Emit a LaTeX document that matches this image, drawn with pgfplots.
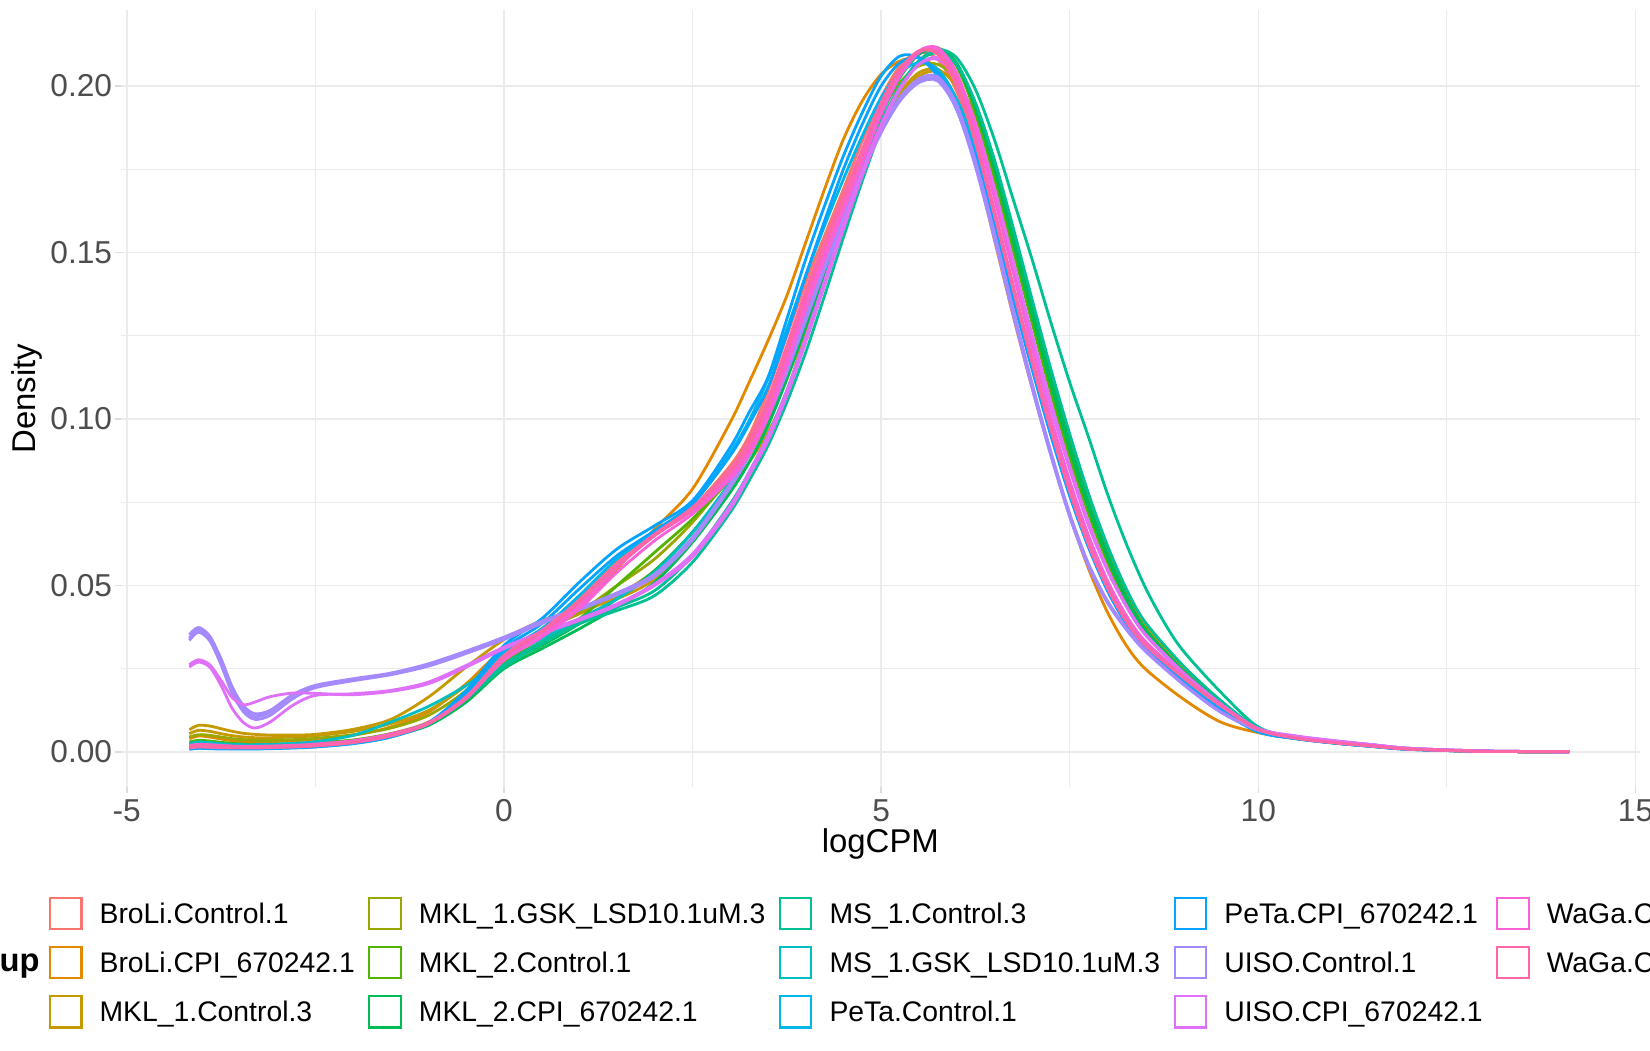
\documentclass[border=0pt]{standalone}
\usepackage{fontspec}
\setmainfont{Liberation Sans}
\usepackage{pgfplots}
\pgfplotsset{compat=1.18}
\definecolor{cBS}{HTML}{F8766D}
\definecolor{cBC}{HTML}{E38900}
\definecolor{cMC}{HTML}{C49A00}
\definecolor{cMG}{HTML}{99A800}
\definecolor{cTC}{HTML}{53B400}
\definecolor{cTP}{HTML}{00BC56}
\definecolor{cSC}{HTML}{00C094}
\definecolor{cSG}{HTML}{00BFC4}
\definecolor{cPC}{HTML}{00B6EB}
\definecolor{cPP}{HTML}{06A4FF}
\definecolor{cUC}{HTML}{A58AFF}
\definecolor{cUP}{HTML}{DF70F8}
\definecolor{cW1}{HTML}{FB61D7}
\definecolor{cW2}{HTML}{FF66A8}
\definecolor{gridc}{HTML}{EBEBEB}
\definecolor{tickmc}{HTML}{DDDDDD}
\definecolor{tickc}{HTML}{4D4D4D}
\begin{document}
\begin{tikzpicture}
\path[use as bounding box] (-57.94pt,-126.1pt) rectangle (734.06pt,377.9pt);
\begin{axis}[
  name=ax,
  at={(0pt,0pt)}, anchor=south west,
  x=36.21pt, y=1598.4pt,
  xmin=-5.08, xmax=15.06, ymin=-0.0106, ymax=0.2229,
  axis line style={draw=none},
  xtick={-5,0,5,10,15}, xticklabels={-5,0,5,10,15},
  ytick={0,0.05,0.1,0.15,0.2}, yticklabels={0.00,0.05,0.10,0.15,0.20},
  minor xtick={-2.5,2.5,7.5,12.5},
  minor ytick={0.025,0.075,0.125,0.175},
  grid=both,
  major grid style={draw=gridc, line width=0.75pt},
  minor grid style={draw=gridc, line width=0.45pt},
  tick align=outside, tick pos=left,
  major tick length=2.64pt, minor tick length=0pt,
  major tick style={draw=tickmc, line width=0.75pt},
  ticklabel style={font=\fontsize{15.2}{18}\selectfont, text=tickc, inner sep=0pt},
  xticklabel style={anchor=base, yshift=-13.6pt},
  yticklabel style={anchor=east, xshift=-1.3pt},
  every axis x label/.style={at={([yshift=-31.5pt]axis description cs:0.5,0)}, anchor=base, inner sep=0pt, font=\fontsize{15.8}{18}\selectfont},
  every axis y label/.style={at={([xshift=-41.1pt]axis description cs:0,0.5)}, rotate=90, anchor=base, inner sep=0pt, font=\fontsize{15.8}{18}\selectfont},
  xlabel={logCPM}, ylabel={Density},
  every axis plot/.append style={line width=1.35pt, smooth, tension=0.5, no markers},
  legend columns=3, transpose legend,
  legend style={at={([xshift=-34.4pt, yshift=-52.5pt]axis description cs:0,0)}, anchor=north west, draw=none, fill=none, inner sep=0pt, outer sep=0pt, row sep=7.2pt, column sep=4.5pt, font=\fontsize{13.6}{16}\selectfont, cells={anchor=base west, inner sep=0pt}},
  legend image code/.code={\path (17.1pt,0pt); \draw[#1, line width=1.0pt] (0.5pt,-2.7pt) rectangle (15.6pt,12.4pt);},
]
% BroLi.Control.1
\addplot[cBS] coordinates {(-4.17,0.0020) (-4.05,0.0024) (-3.9,0.0023) (-3.75,0.0020) (-3.6,0.0018) (-3.45,0.0017) (-3.3,0.0017) (-3.1,0.0018) (-2.8,0.0020) (-2.5,0.0024) (-2,0.0035) (-1.5,0.0055) (-1,0.0090) (-0.5,0.0165) (0,0.0290) (0.5,0.0370) (1,0.0460) (1.5,0.0570) (2,0.0665) (2.5,0.0735) (3,0.0860) (3.25,0.0950) (3.5,0.1085) (3.75,0.1250) (4,0.1410) (4.25,0.1550) (4.5,0.1690) (4.75,0.1835) (5,0.1965) (5.25,0.2060) (5.5,0.2100) (5.75,0.2080) (6,0.1985) (6.25,0.1815) (6.5,0.1600) (6.75,0.1375) (7,0.1160) (7.25,0.0960) (7.5,0.0778) (7.75,0.0620) (8,0.0490) (8.25,0.0390) (8.5,0.0320) (9,0.0222) (9.5,0.0138) (10,0.0067) (10.5,0.0042) (11,0.0028) (11.5,0.0018) (12,0.0009) (13,0.0002) (14.12,0.0001)};
\addlegendentry{BroLi.Control.1}
% BroLi.CPI_670242.1
\addplot[cBC] coordinates {(-4.17,0.0040) (-4.05,0.0048) (-3.9,0.0045) (-3.75,0.0039) (-3.6,0.0034) (-3.45,0.0031) (-3.3,0.0030) (-3.1,0.0031) (-2.8,0.0034) (-2.5,0.0038) (-2,0.0050) (-1.5,0.0075) (-1,0.0120) (-0.5,0.0205) (0,0.0310) (0.5,0.0360) (1,0.0430) (1.5,0.0550) (2,0.0670) (2.5,0.0790) (3,0.0990) (3.25,0.1110) (3.5,0.1235) (3.75,0.1370) (4,0.1530) (4.25,0.1690) (4.5,0.1840) (4.75,0.1955) (5,0.2035) (5.25,0.2075) (5.5,0.2085) (5.75,0.2050) (6,0.1960) (6.25,0.1770) (6.5,0.1540) (6.75,0.1310) (7,0.1095) (7.25,0.0895) (7.5,0.0710) (7.75,0.0550) (8,0.0420) (8.25,0.0320) (8.5,0.0250) (9,0.0160) (9.5,0.0090) (10,0.0058) (10.5,0.0040) (11,0.0027) (11.5,0.0017) (12,0.0008) (13,0.0002) (14.12,0.0001)};
\addlegendentry{BroLi.CPI\_670242.1}
% MKL_1.Control.3
\addplot[cMC] coordinates {(-4.17,0.0067) (-4.05,0.0080) (-3.9,0.0078) (-3.75,0.0070) (-3.6,0.0062) (-3.45,0.0056) (-3.3,0.0053) (-3.1,0.0051) (-2.8,0.0051) (-2.5,0.0053) (-2,0.0068) (-1.5,0.0098) (-1,0.0165) (-0.5,0.0255) (0,0.0337) (0.5,0.0395) (1,0.0427) (1.5,0.0460) (2,0.0520) (2.5,0.0640) (3,0.0790) (3.25,0.0870) (3.5,0.0960) (3.75,0.1080) (4,0.1260) (4.25,0.1430) (4.5,0.1590) (4.75,0.1740) (5,0.1870) (5.25,0.1970) (5.5,0.2030) (5.75,0.2045) (6,0.2010) (6.25,0.1910) (6.5,0.1750) (6.75,0.1550) (7,0.1340) (7.25,0.1130) (7.5,0.0930) (7.75,0.0750) (8,0.0600) (8.25,0.0475) (8.5,0.0380) (9,0.0250) (9.5,0.0150) (10,0.0069) (10.5,0.0042) (11,0.0028) (11.5,0.0018) (12,0.0009) (13,0.0002) (14.12,0.0001)};
\addlegendentry{MKL\_1.Control.3}
\addplot[cMC, forget plot] coordinates {(-4.17,0.0055) (-4.05,0.0065) (-3.9,0.0062) (-3.75,0.0055) (-3.6,0.0049) (-3.45,0.0045) (-3.3,0.0043) (-3.1,0.0043) (-2.8,0.0045) (-2.5,0.0049) (-2,0.0062) (-1.5,0.0085) (-1,0.0125) (-0.5,0.0200) (0,0.0300) (0.5,0.0365) (1,0.0415) (1.5,0.0470) (2,0.0545) (2.5,0.0660) (3,0.0805) (3.25,0.0890) (3.5,0.0990) (3.75,0.1120) (4,0.1280) (4.25,0.1440) (4.5,0.1600) (4.75,0.1750) (5,0.1880) (5.25,0.1980) (5.5,0.2040) (5.75,0.2050) (6,0.2000) (6.25,0.1890) (6.5,0.1725) (6.75,0.1525) (7,0.1315) (7.25,0.1110) (7.5,0.0915) (7.75,0.0740) (8,0.0590) (8.25,0.0468) (8.5,0.0375) (9,0.0248) (9.5,0.0149) (10,0.0069) (10.5,0.0042) (11,0.0028) (11.5,0.0018) (12,0.0009) (13,0.0002) (14.12,0.0001)};
% MKL_1.GSK_LSD10.1uM.3
\addplot[cMG] coordinates {(-4.17,0.0045) (-4.05,0.0052) (-3.9,0.0050) (-3.75,0.0045) (-3.6,0.0040) (-3.45,0.0037) (-3.3,0.0035) (-3.1,0.0035) (-2.8,0.0037) (-2.5,0.0041) (-2,0.0052) (-1.5,0.0072) (-1,0.0110) (-0.5,0.0185) (0,0.0300) (0.5,0.0360) (1,0.0420) (1.5,0.0500) (2,0.0580) (2.5,0.0690) (3,0.0830) (3.25,0.0920) (3.5,0.1040) (3.75,0.1180) (4,0.1330) (4.25,0.1480) (4.5,0.1630) (4.75,0.1780) (5,0.1920) (5.25,0.2010) (5.5,0.2060) (5.75,0.2065) (6,0.2020) (6.25,0.1900) (6.5,0.1720) (6.75,0.1510) (7,0.1300) (7.25,0.1100) (7.5,0.0905) (7.75,0.0730) (8,0.0580) (8.25,0.0460) (8.5,0.0370) (9,0.0245) (9.5,0.0148) (10,0.0068) (10.5,0.0042) (11,0.0028) (11.5,0.0018) (12,0.0009) (13,0.0002) (14.12,0.0001)};
\addlegendentry{MKL\_1.GSK\_LSD10.1uM.3}
% MKL_2.Control.1
\addplot[cTC] coordinates {(-4.17,0.0030) (-4.05,0.0035) (-3.9,0.0033) (-3.75,0.0029) (-3.6,0.0026) (-3.45,0.0024) (-3.3,0.0023) (-3.1,0.0023) (-2.8,0.0025) (-2.5,0.0028) (-2,0.0036) (-1.5,0.0055) (-1,0.0088) (-0.5,0.0160) (0,0.0270) (0.5,0.0330) (1,0.0400) (1.5,0.0500) (2,0.0600) (2.5,0.0700) (3,0.0820) (3.25,0.0905) (3.5,0.1005) (3.75,0.1150) (4,0.1310) (4.25,0.1470) (4.5,0.1630) (4.75,0.1780) (5,0.1920) (5.25,0.2030) (5.5,0.2100) (5.75,0.2115) (6,0.2060) (6.25,0.1920) (6.5,0.1730) (6.75,0.1510) (7,0.1290) (7.25,0.1080) (7.5,0.0885) (7.75,0.0715) (8,0.0570) (8.25,0.0450) (8.5,0.0360) (9,0.0240) (9.5,0.0145) (10,0.0068) (10.5,0.0042) (11,0.0028) (11.5,0.0018) (12,0.0009) (13,0.0002) (14.12,0.0001)};
\addlegendentry{MKL\_2.Control.1}
% MKL_2.CPI_670242.1
\addplot[cTP] coordinates {(-4.17,0.0018) (-4.05,0.0022) (-3.9,0.0021) (-3.75,0.0019) (-3.6,0.0017) (-3.45,0.0016) (-3.3,0.0016) (-3.1,0.0016) (-2.8,0.0018) (-2.5,0.0021) (-2,0.0030) (-1.5,0.0048) (-1,0.0080) (-0.5,0.0150) (0,0.0250) (0.5,0.0310) (1,0.0370) (1.5,0.0435) (2,0.0510) (2.5,0.0630) (3,0.0780) (3.25,0.0870) (3.5,0.0980) (3.75,0.1120) (4,0.1275) (4.25,0.1435) (4.5,0.1600) (4.75,0.1760) (5,0.1910) (5.25,0.2025) (5.5,0.2095) (5.75,0.2110) (6,0.2065) (6.25,0.1935) (6.5,0.1750) (6.75,0.1535) (7,0.1315) (7.25,0.1105) (7.5,0.0910) (7.75,0.0735) (8,0.0585) (8.25,0.0460) (8.5,0.0365) (9,0.0242) (9.5,0.0146) (10,0.0068) (10.5,0.0042) (11,0.0028) (11.5,0.0018) (12,0.0009) (13,0.0002) (14.12,0.0001)};
\addlegendentry{MKL\_2.CPI\_670242.1}
\addplot[cTP, forget plot] coordinates {(-4.17,0.0025) (-4.05,0.0030) (-3.9,0.0028) (-3.75,0.0025) (-3.6,0.0022) (-3.45,0.0020) (-3.3,0.0019) (-3.1,0.0019) (-2.8,0.0021) (-2.5,0.0024) (-2,0.0033) (-1.5,0.0050) (-1,0.0083) (-0.5,0.0152) (0,0.0260) (0.5,0.0320) (1,0.0385) (1.5,0.0460) (2,0.0545) (2.5,0.0660) (3,0.0805) (3.25,0.0895) (3.5,0.1000) (3.75,0.1140) (4,0.1295) (4.25,0.1455) (4.5,0.1615) (4.75,0.1770) (5,0.1915) (5.25,0.2030) (5.5,0.2100) (5.75,0.2112) (6,0.2070) (6.25,0.1945) (6.5,0.1765) (6.75,0.1550) (7,0.1330) (7.25,0.1120) (7.5,0.0925) (7.75,0.0748) (8,0.0595) (8.25,0.0468) (8.5,0.0370) (9,0.0245) (9.5,0.0147) (10,0.0068) (10.5,0.0042) (11,0.0028) (11.5,0.0018) (12,0.0009) (13,0.0002) (14.12,0.0001)};
% MS_1.Control.3
\addplot[cSC] coordinates {(-4.17,0.0015) (-4.05,0.0018) (-3.9,0.0017) (-3.75,0.0015) (-3.6,0.0014) (-3.45,0.0014) (-3.3,0.0014) (-3.1,0.0015) (-2.8,0.0017) (-2.5,0.0020) (-2,0.0030) (-1.5,0.0050) (-1,0.0085) (-0.5,0.0160) (0,0.0255) (0.5,0.0325) (1,0.0385) (1.5,0.0425) (2,0.0470) (2.5,0.0570) (3,0.0720) (3.25,0.0815) (3.5,0.0920) (3.75,0.1050) (4,0.1200) (4.25,0.1370) (4.5,0.1545) (4.75,0.1715) (5,0.1870) (5.25,0.1990) (5.5,0.2075) (5.75,0.2110) (6,0.2085) (6.25,0.1990) (6.5,0.1840) (6.75,0.1660) (7,0.1480) (7.25,0.1290) (7.5,0.1110) (7.75,0.0945) (8,0.0775) (8.25,0.0625) (8.5,0.0495) (8.75,0.0390) (9,0.0305) (9.5,0.0180) (10,0.0075) (10.5,0.0044) (11,0.0029) (11.5,0.0018) (12,0.0009) (13,0.0002) (14.12,0.0001)};
\addlegendentry{MS\_1.Control.3}
\addplot[cSC, forget plot] coordinates {(-4.17,0.0020) (-4.05,0.0024) (-3.9,0.0022) (-3.75,0.0020) (-3.6,0.0018) (-3.45,0.0017) (-3.3,0.0017) (-3.1,0.0018) (-2.8,0.0020) (-2.5,0.0023) (-2,0.0033) (-1.5,0.0052) (-1,0.0088) (-0.5,0.0162) (0,0.0262) (0.5,0.0330) (1,0.0390) (1.5,0.0435) (2,0.0485) (2.5,0.0590) (3,0.0745) (3.25,0.0840) (3.5,0.0950) (3.75,0.1085) (4,0.1240) (4.25,0.1405) (4.5,0.1575) (4.75,0.1740) (5,0.1890) (5.25,0.2000) (5.5,0.2075) (5.75,0.2100) (6,0.2065) (6.25,0.1950) (6.5,0.1780) (6.75,0.1575) (7,0.1360) (7.25,0.1150) (7.5,0.0955) (7.75,0.0775) (8,0.0620) (8.25,0.0490) (8.5,0.0390) (9,0.0260) (9.5,0.0155) (10,0.0070) (10.5,0.0043) (11,0.0028) (11.5,0.0018) (12,0.0009) (13,0.0002) (14.12,0.0001)};
% MS_1.GSK_LSD10.1uM.3
\addplot[cSG] coordinates {(-4.17,0.0025) (-4.05,0.0030) (-3.9,0.0028) (-3.75,0.0025) (-3.6,0.0023) (-3.45,0.0022) (-3.3,0.0022) (-3.1,0.0023) (-2.8,0.0026) (-2.5,0.0031) (-2,0.0050) (-1.5,0.0090) (-1,0.0137) (-0.5,0.0200) (0,0.0280) (0.5,0.0340) (1,0.0400) (1.5,0.0460) (2,0.0540) (2.5,0.0660) (3,0.0810) (3.25,0.0900) (3.5,0.1010) (3.75,0.1150) (4,0.1300) (4.25,0.1450) (4.5,0.1600) (4.75,0.1745) (5,0.1870) (5.25,0.1960) (5.5,0.2015) (5.75,0.2020) (6,0.1960) (6.25,0.1820) (6.5,0.1620) (6.75,0.1400) (7,0.1180) (7.25,0.0975) (7.5,0.0790) (7.75,0.0630) (8,0.0500) (8.25,0.0400) (8.5,0.0325) (9,0.0225) (9.5,0.0138) (10,0.0066) (10.5,0.0042) (11,0.0028) (11.5,0.0018) (12,0.0009) (13,0.0002) (14.12,0.0001)};
\addlegendentry{MS\_1.GSK\_LSD10.1uM.3}
% PeTa.Control.1
\addplot[cPC] coordinates {(-4.17,0.0010) (-4.05,0.0013) (-3.9,0.0012) (-3.75,0.0011) (-3.6,0.0010) (-3.45,0.0010) (-3.3,0.0010) (-3.1,0.0011) (-2.8,0.0013) (-2.5,0.0016) (-2,0.0026) (-1.5,0.0045) (-1,0.0085) (-0.5,0.0175) (0,0.0300) (0.5,0.0370) (1,0.0470) (1.5,0.0580) (2,0.0660) (2.5,0.0745) (3,0.0900) (3.25,0.0995) (3.5,0.1120) (3.75,0.1270) (4,0.1430) (4.25,0.1580) (4.5,0.1720) (4.75,0.1850) (5,0.1965) (5.25,0.2040) (5.5,0.2070) (5.75,0.2050) (6,0.1960) (6.25,0.1800) (6.5,0.1595) (6.75,0.1375) (7,0.1160) (7.25,0.0955) (7.5,0.0770) (7.75,0.0615) (8,0.0485) (8.25,0.0385) (8.5,0.0310) (9,0.0210) (9.5,0.0128) (10,0.0062) (10.5,0.0041) (11,0.0027) (11.5,0.0017) (12,0.0008) (13,0.0002) (14.12,0.0001)};
\addlegendentry{PeTa.Control.1}
% PeTa.CPI_670242.1
\addplot[cPP] coordinates {(-4.17,0.0008) (-4.05,0.0011) (-3.9,0.0010) (-3.75,0.0009) (-3.6,0.0009) (-3.45,0.0009) (-3.3,0.0009) (-3.1,0.0010) (-2.8,0.0012) (-2.5,0.0015) (-2,0.0025) (-1.5,0.0045) (-1,0.0088) (-0.5,0.0185) (0,0.0320) (0.5,0.0400) (1,0.0510) (1.5,0.0610) (2,0.0680) (2.5,0.0755) (3,0.0915) (3.25,0.1020) (3.5,0.1125) (3.75,0.1300) (4,0.1480) (4.25,0.1640) (4.5,0.1790) (4.75,0.1920) (5,0.2030) (5.25,0.2090) (5.5,0.2085) (5.75,0.2030) (6,0.1930) (6.25,0.1770) (6.5,0.1570) (6.75,0.1360) (7,0.1150) (7.25,0.0950) (7.5,0.0770) (7.75,0.0615) (8,0.0485) (8.25,0.0385) (8.5,0.0310) (9,0.0210) (9.5,0.0125) (10,0.0060) (10.5,0.0040) (11,0.0027) (11.5,0.0017) (12,0.0008) (13,0.0002) (14.12,0.0001)};
\addlegendentry{PeTa.CPI\_670242.1}
\addplot[cPP, forget plot] coordinates {(-4.17,0.0012) (-4.05,0.0015) (-3.9,0.0014) (-3.75,0.0013) (-3.6,0.0012) (-3.45,0.0012) (-3.3,0.0012) (-3.1,0.0013) (-2.8,0.0015) (-2.5,0.0018) (-2,0.0028) (-1.5,0.0047) (-1,0.0088) (-0.5,0.0180) (0,0.0310) (0.5,0.0385) (1,0.0490) (1.5,0.0590) (2,0.0665) (2.5,0.0745) (3,0.0890) (3.25,0.0985) (3.5,0.1095) (3.75,0.1255) (4,0.1430) (4.25,0.1595) (4.5,0.1750) (4.75,0.1885) (5,0.2000) (5.25,0.2070) (5.5,0.2085) (5.75,0.2040) (6,0.1945) (6.25,0.1790) (6.5,0.1590) (6.75,0.1375) (7,0.1160) (7.25,0.0960) (7.5,0.0778) (7.75,0.0620) (8,0.0490) (8.25,0.0388) (8.5,0.0312) (9,0.0212) (9.5,0.0127) (10,0.0061) (10.5,0.0040) (11,0.0027) (11.5,0.0017) (12,0.0008) (13,0.0002) (14.12,0.0001)};
% UISO.Control.1
\addplot[cUC] coordinates {(-4.17,0.0342) (-4.05,0.0367) (-3.9,0.0340) (-3.75,0.0272) (-3.6,0.0185) (-3.45,0.0130) (-3.3,0.0106) (-3.1,0.0120) (-2.8,0.0170) (-2.5,0.0199) (-2,0.0218) (-1.5,0.0235) (-1,0.0262) (-0.5,0.0300) (0,0.0342) (0.5,0.0390) (1,0.0430) (1.5,0.0475) (2,0.0530) (2.5,0.0640) (3,0.0800) (3.25,0.0895) (3.5,0.1010) (3.75,0.1145) (4,0.1300) (4.25,0.1455) (4.5,0.1600) (4.75,0.1740) (5,0.1865) (5.25,0.1960) (5.5,0.2015) (5.75,0.2020) (6,0.1935) (6.25,0.1765) (6.5,0.1550) (6.75,0.1320) (7,0.1100) (7.25,0.0895) (7.5,0.0710) (7.75,0.0560) (8,0.0450) (8.25,0.0370) (8.5,0.0305) (9,0.0205) (9.5,0.0120) (10,0.0066) (10.5,0.0046) (11,0.0033) (11.5,0.0022) (12,0.0011) (13,0.0003) (14.12,0.0001)};
\addlegendentry{UISO.Control.1}
\addplot[cUC, forget plot] coordinates {(-4.17,0.0352) (-4.05,0.0374) (-3.9,0.0348) (-3.75,0.0280) (-3.6,0.0195) (-3.45,0.0138) (-3.3,0.0115) (-3.1,0.0125) (-2.8,0.0172) (-2.5,0.0200) (-2,0.0220) (-1.5,0.0237) (-1,0.0265) (-0.5,0.0303) (0,0.0345) (0.5,0.0393) (1,0.0433) (1.5,0.0478) (2,0.0535) (2.5,0.0645) (3,0.0805) (3.25,0.0900) (3.5,0.1015) (3.75,0.1150) (4,0.1305) (4.25,0.1460) (4.5,0.1605) (4.75,0.1745) (5,0.1870) (5.25,0.1965) (5.5,0.2022) (5.75,0.2028) (6,0.1945) (6.25,0.1775) (6.5,0.1560) (6.75,0.1330) (7,0.1108) (7.25,0.0902) (7.5,0.0716) (7.75,0.0565) (8,0.0454) (8.25,0.0373) (8.5,0.0307) (9,0.0206) (9.5,0.0121) (10,0.0066) (10.5,0.0046) (11,0.0033) (11.5,0.0022) (12,0.0011) (13,0.0003) (14.12,0.0001)};
\addplot[cUC, forget plot] coordinates {(-4.17,0.0335) (-4.05,0.0360) (-3.9,0.0334) (-3.75,0.0262) (-3.6,0.0175) (-3.45,0.0120) (-3.3,0.0098) (-3.1,0.0110) (-2.8,0.0160) (-2.5,0.0193) (-2,0.0214) (-1.5,0.0232) (-1,0.0258) (-0.5,0.0296) (0,0.0338) (0.5,0.0386) (1,0.0427) (1.5,0.0472) (2,0.0527) (2.5,0.0636) (3,0.0795) (3.25,0.0890) (3.5,0.1005) (3.75,0.1140) (4,0.1295) (4.25,0.1450) (4.5,0.1595) (4.75,0.1735) (5,0.1860) (5.25,0.1955) (5.5,0.2010) (5.75,0.2015) (6,0.1930) (6.25,0.1758) (6.5,0.1543) (6.75,0.1313) (7,0.1094) (7.25,0.0890) (7.5,0.0706) (7.75,0.0557) (8,0.0448) (8.25,0.0368) (8.5,0.0303) (9,0.0204) (9.5,0.0120) (10,0.0066) (10.5,0.0046) (11,0.0033) (11.5,0.0022) (12,0.0011) (13,0.0003) (14.12,0.0001)};
% UISO.CPI_670242.1
\addplot[cUP] coordinates {(-4.17,0.0262) (-4.05,0.0277) (-3.9,0.0262) (-3.75,0.0215) (-3.6,0.0163) (-3.45,0.0142) (-3.3,0.0150) (-3.1,0.0166) (-2.8,0.0177) (-2.5,0.0176) (-2,0.0172) (-1.5,0.0182) (-1,0.0205) (-0.5,0.0255) (0,0.0310) (0.5,0.0355) (1,0.0395) (1.5,0.0440) (2,0.0500) (2.5,0.0585) (3,0.0730) (3.25,0.0830) (3.5,0.0935) (3.75,0.1070) (4,0.1230) (4.25,0.1400) (4.5,0.1570) (4.75,0.1730) (5,0.1875) (5.25,0.1990) (5.5,0.2065) (5.75,0.2085) (6,0.2030) (6.25,0.1890) (6.5,0.1695) (6.75,0.1475) (7,0.1255) (7.25,0.1050) (7.5,0.0860) (7.75,0.0690) (8,0.0550) (8.25,0.0440) (8.5,0.0355) (9,0.0240) (9.5,0.0145) (10,0.0070) (10.5,0.0048) (11,0.0034) (11.5,0.0022) (12,0.0011) (13,0.0003) (14.12,0.0001)};
\addlegendentry{UISO.CPI\_670242.1}
\addplot[cUP, forget plot] coordinates {(-4.17,0.0255) (-4.05,0.0270) (-3.9,0.0255) (-3.75,0.0200) (-3.6,0.0130) (-3.45,0.0088) (-3.3,0.0072) (-3.1,0.0090) (-2.8,0.0140) (-2.5,0.0170) (-2,0.0175) (-1.5,0.0185) (-1,0.0210) (-0.5,0.0260) (0,0.0315) (0.5,0.0360) (1,0.0400) (1.5,0.0445) (2,0.0505) (2.5,0.0595) (3,0.0740) (3.25,0.0840) (3.5,0.0950) (3.75,0.1085) (4,0.1245) (4.25,0.1415) (4.5,0.1585) (4.75,0.1745) (5,0.1885) (5.25,0.1995) (5.5,0.2065) (5.75,0.2080) (6,0.2020) (6.25,0.1875) (6.5,0.1680) (6.75,0.1460) (7,0.1240) (7.25,0.1035) (7.5,0.0848) (7.75,0.0680) (8,0.0545) (8.25,0.0437) (8.5,0.0352) (9,0.0238) (9.5,0.0144) (10,0.0070) (10.5,0.0048) (11,0.0034) (11.5,0.0022) (12,0.0011) (13,0.0003) (14.12,0.0001)};
% WaGa 1
\addplot[cW1] coordinates {(-4.17,0.0015) (-4.05,0.0018) (-3.9,0.0017) (-3.75,0.0015) (-3.6,0.0014) (-3.45,0.0014) (-3.3,0.0014) (-3.1,0.0015) (-2.8,0.0017) (-2.5,0.0020) (-2,0.0030) (-1.5,0.0050) (-1,0.0085) (-0.5,0.0160) (0,0.0280) (0.5,0.0355) (1,0.0440) (1.5,0.0555) (2,0.0650) (2.5,0.0725) (3,0.0830) (3.25,0.0905) (3.5,0.1020) (3.75,0.1180) (4,0.1350) (4.25,0.1495) (4.5,0.1635) (4.75,0.1775) (5,0.1920) (5.25,0.2030) (5.5,0.2100) (5.75,0.2110) (6,0.2020) (6.25,0.1850) (6.5,0.1630) (6.75,0.1400) (7,0.1175) (7.25,0.0970) (7.5,0.0785) (7.75,0.0625) (8,0.0495) (8.25,0.0393) (8.5,0.0322) (9,0.0226) (9.5,0.0140) (10,0.0068) (10.5,0.0042) (11,0.0029) (11.5,0.0019) (12,0.0009) (13,0.0002) (14.12,0.0001)};
\addlegendentry{WaGa.Control.1}
\addplot[cW1, forget plot] coordinates {(-4.17,0.0020) (-4.05,0.0023) (-3.9,0.0022) (-3.75,0.0020) (-3.6,0.0018) (-3.45,0.0017) (-3.3,0.0017) (-3.1,0.0018) (-2.8,0.0020) (-2.5,0.0024) (-2,0.0034) (-1.5,0.0054) (-1,0.0088) (-0.5,0.0165) (0,0.0275) (0.5,0.0345) (1,0.0430) (1.5,0.0540) (2,0.0635) (2.5,0.0715) (3,0.0820) (3.25,0.0895) (3.5,0.1005) (3.75,0.1160) (4,0.1330) (4.25,0.1480) (4.5,0.1625) (4.75,0.1770) (5,0.1915) (5.25,0.2030) (5.5,0.2105) (5.75,0.2115) (6,0.2040) (6.25,0.1880) (6.5,0.1665) (6.75,0.1440) (7,0.1215) (7.25,0.1005) (7.5,0.0815) (7.75,0.0650) (8,0.0515) (8.25,0.0410) (8.5,0.0333) (9,0.0230) (9.5,0.0142) (10,0.0068) (10.5,0.0042) (11,0.0029) (11.5,0.0019) (12,0.0009) (13,0.0002) (14.12,0.0001)};
% WaGa 2
\addplot[cW2] coordinates {(-4.17,0.0012) (-4.05,0.0015) (-3.9,0.0014) (-3.75,0.0013) (-3.6,0.0012) (-3.45,0.0012) (-3.3,0.0012) (-3.1,0.0013) (-2.8,0.0015) (-2.5,0.0018) (-2,0.0028) (-1.5,0.0048) (-1,0.0085) (-0.5,0.0165) (0,0.0290) (0.5,0.0365) (1,0.0455) (1.5,0.0565) (2,0.0655) (2.5,0.0735) (3,0.0850) (3.25,0.0935) (3.5,0.1060) (3.75,0.1220) (4,0.1385) (4.25,0.1530) (4.5,0.1670) (4.75,0.1810) (5,0.1950) (5.25,0.2050) (5.5,0.2105) (5.75,0.2095) (6,0.2000) (6.25,0.1830) (6.5,0.1615) (6.75,0.1390) (7,0.1170) (7.25,0.0968) (7.5,0.0783) (7.75,0.0623) (8,0.0493) (8.25,0.0392) (8.5,0.0321) (9,0.0225) (9.5,0.0139) (10,0.0067) (10.5,0.0042) (11,0.0028) (11.5,0.0018) (12,0.0009) (13,0.0002) (14.12,0.0001)};
\addlegendentry{WaGa.CPI\_670242.1}
\addplot[cW2, forget plot] coordinates {(-4.17,0.0017) (-4.05,0.0020) (-3.9,0.0019) (-3.75,0.0017) (-3.6,0.0016) (-3.45,0.0015) (-3.3,0.0015) (-3.1,0.0016) (-2.8,0.0018) (-2.5,0.0021) (-2,0.0031) (-1.5,0.0051) (-1,0.0087) (-0.5,0.0165) (0,0.0285) (0.5,0.0360) (1,0.0450) (1.5,0.0560) (2,0.0650) (2.5,0.0730) (3,0.0840) (3.25,0.0920) (3.5,0.1040) (3.75,0.1200) (4,0.1368) (4.25,0.1515) (4.5,0.1655) (4.75,0.1795) (5,0.1940) (5.25,0.2045) (5.5,0.2105) (5.75,0.2100) (6,0.2010) (6.25,0.1840) (6.5,0.1625) (6.75,0.1400) (7,0.1180) (7.25,0.0975) (7.5,0.0790) (7.75,0.0628) (8,0.0497) (8.25,0.0395) (8.5,0.0323) (9,0.0226) (9.5,0.0140) (10,0.0068) (10.5,0.0042) (11,0.0028) (11.5,0.0018) (12,0.0009) (13,0.0002) (14.12,0.0001)};
\end{axis}
\node[anchor=base east, inner sep=0pt, font=\bfseries\fontsize{15.7}{18}\selectfont] at ([xshift=-38.7pt, yshift=-88.6pt]ax.south west) {Group};
\end{tikzpicture}
\end{document}
